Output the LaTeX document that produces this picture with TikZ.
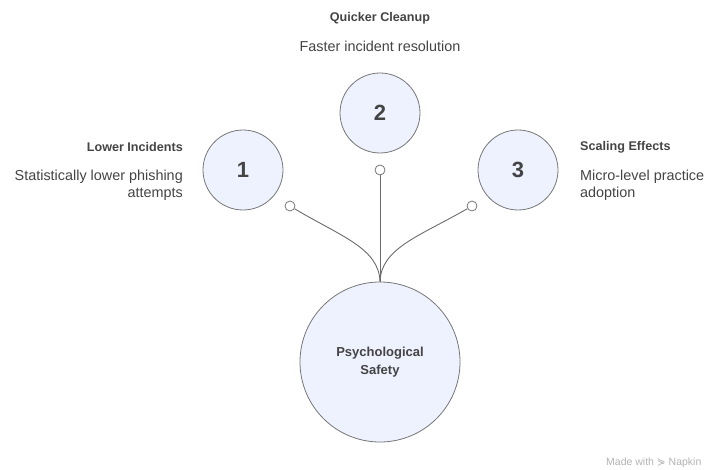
\documentclass[tikz,border=0pt]{standalone}
\usepackage{fontspec}
\setmainfont{Liberation Sans}
\newfontfamily\symfont{DejaVu Sans}
\usetikzlibrary{positioning}
\definecolor{discfill}{HTML}{EEF2FF}
\definecolor{discline}{HTML}{777777}
\definecolor{inktext}{HTML}{444444}

\begin{document}
\begin{tikzpicture}[x=1pt,y=-1pt,
	disc/.style={circle,draw=discline,fill=discfill,line width=0.8pt,inner sep=0pt,text=inktext},
	knob/.style={circle,draw=discline,fill=white,line width=0.8pt,minimum size=10pt,inner sep=0pt},
	link/.style={draw=discline!90!black,line width=0.9pt},
	head/.style={font=\fontsize{12.6}{15}\selectfont\bfseries,text=inktext,inner sep=0pt},
	body/.style={font=\fontsize{14.4}{17}\selectfont,text=inktext,inner sep=0pt}]
	%%%%% START %%%%%
	\def\xmid{380}
	\def\xl{243}
	\def\xr{518}
	\def\yside{170}
	\def\ytop{113}
	\useasboundingbox (0,0) rectangle (704,470);

	% main disc
	\node[disc,minimum size=160pt,font=\fontsize{13}{18}\selectfont\bfseries,align=center] (ps) at (\xmid,362) {Psychological\\Safety};

	% numbered discs
	\node[disc,minimum size=80pt,font=\fontsize{22}{24}\selectfont\bfseries] (n1) at (\xl,\yside) {1};
	\node[disc,minimum size=80pt,font=\fontsize{22}{24}\selectfont\bfseries] (n2) at (\xmid,\ytop) {2};
	\node[disc,minimum size=80pt,font=\fontsize{22}{24}\selectfont\bfseries] (n3) at (\xr,\yside) {3};

	% knobs and links
	\node[knob] (k1) at (290,206) {};
	\node[knob] (k2) at (\xmid,170) {};
	\node[knob] (k3) at (472,206) {};
	\draw[link] (k1) .. controls (340,236) and (379,248) .. (ps.north);
	\draw[link] (k2) -- (ps.north);
	\draw[link] (k3) .. controls (420,236) and (381,248) .. (ps.north);

	% labels
	\node[head,anchor=east] (h1) at (183,147) {Lower Incidents};
	\node[body,anchor=east,align=right] (b1) at (183,185) {Statistically lower phishing\\attempts};
	\node[head] (h2) at (\xmid,18) {Quicker Cleanup};
	\node[body] (b2) at (\xmid,46) {Faster incident resolution};
	\node[head,anchor=west] (h3) at (580,147) {Scaling Effects};
	\node[body,anchor=west,align=left] (b3) at (580,185) {Micro-level practice\\adoption};

	\node[anchor=west,inner sep=0pt,text=black!30,font=\fontsize{10.5}{12}\selectfont] (mark) at (606,463) {Made with {\symfont ⋟} Napkin};
	%%%%% END %%%%%
\end{tikzpicture}
\end{document}
